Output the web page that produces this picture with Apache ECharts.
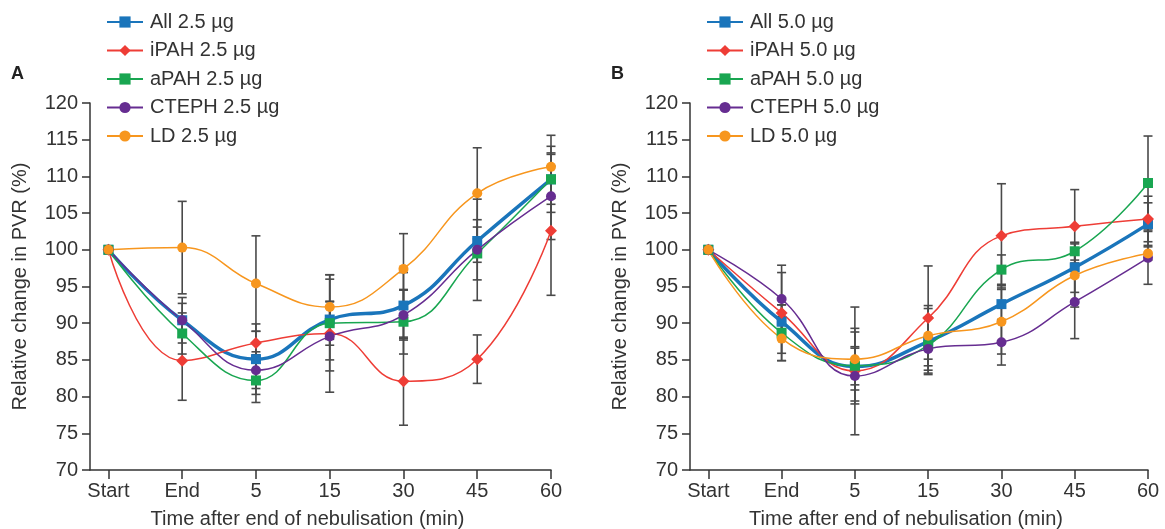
<!DOCTYPE html>
<html><head><meta charset="utf-8">
<script src="https://cdn.jsdelivr.net/npm/echarts@6/dist/echarts.min.js"></script>
<style>html,body{margin:0;padding:0;background:#fff}#c{width:1165px;height:529px}</style>
</head><body><div id="c"></div><script>
const timeLabels = ['Start','End','5','15','30','45','60'];

// Panel A (2.5 µg) means
const a_all   = [100, 90.4, 85.1, 90.5, 92.4, 101.2, 109.6];
const a_ipah  = [100, 84.9, 87.3, 88.6, 82.1, 85.1, 102.6];
const a_apah  = [100, 88.6, 82.2, 90.0, 90.2, 99.5, 109.6];
const a_cteph = [100, 90.4, 83.6, 88.2, 91.1, 100.0, 107.3];
const a_ld    = [100, 100.3, 95.4, 92.2, 97.4, 107.7, 111.3];
// Panel A errors (±)
const a_all_err   = [0, 3.1, 4.8, 5.5, 4.5, 2.9, 3.4];
const a_ipah_err  = [0, 5.4, 1.6, 8.0, 6.0, 3.3, 8.8];
const a_apah_err  = [0, 2.8, 3.0, 3.0, 4.4, 3.6, 4.5];
const a_cteph_err = [0, 2.3, 2.5, 4.7, 3.4, 6.9, 5.9];
const a_ld_err    = [0, 6.3, 6.5, 4.4, 4.8, 6.2, 4.3];

// Panel B (5.0 µg) means
const b_all   = [100, 90.2, 84.1, 87.5, 92.6, 97.6, 103.5];
const b_ipah  = [100, 91.4, 83.5, 90.7, 101.9, 103.2, 104.2];
const b_apah  = [100, 88.7, 84.2, 87.0, 97.3, 99.8, 109.1];
const b_cteph = [100, 93.3, 82.8, 86.5, 87.4, 92.9, 98.9];
const b_ld    = [100, 87.9, 85.1, 88.3, 90.2, 96.5, 99.5];
// Panel B errors (±)
const b_all_err   = [0, 2.3, 4.7, 4.5, 2.5, 3.4, 2.9];
const b_ipah_err  = [0, 5.5, 8.7, 7.1, 7.1, 5.0, 3.1];
const b_apah_err  = [0, 3.8, 2.6, 3.8, 2.0, 1.2, 6.4];
const b_cteph_err = [0, 4.6, 3.8, 1.4, 3.1, 5.0, 3.6];
const b_ld_err    = [0, 3.0, 4.2, 4.1, 4.4, 4.3, 0.9];

const groups = ['All', 'iPAH', 'aPAH', 'CTEPH', 'LD'];
const colors = ['#1a75bb', '#ee3d36', '#19a651', '#662d91', '#f7961e'];
const symbols = ['rect', 'diamond', 'rect', 'circle', 'circle'];
const symSizes = [10, 12, 10, 10, 10];
const widths = [3.5, 1.5, 1.5, 1.5, 1.5];

const TXT = '#333';
const FONT = 'Liberation Sans, Arial, sans-serif';
const FS = 20;

function lineSeries(name, vals, k, g) {
  return {
    type: 'line', name: name, xAxisIndex: g, yAxisIndex: g, z: 3,
    data: vals.map((v, i) => [i, v]),
    smooth: 0.45, smoothMonotone: null,
    symbol: symbols[k], symbolSize: symSizes[k], showSymbol: true,
    lineStyle: { color: colors[k], width: widths[k] },
    itemStyle: { color: colors[k] },
    emphasis: { disabled: true }, animation: false
  };
}
function errSeries(vals, errs, g) {
  const data = [];
  vals.forEach((v, i) => { if (errs[i] > 0) data.push([i, v - errs[i], v + errs[i]]); });
  return {
    type: 'custom', xAxisIndex: g, yAxisIndex: g, z: 1, silent: true, animation: false,
    data: data, encode: { x: 0, y: [1, 2] },
    renderItem: function (params, api) {
      const x = api.value(0);
      const lo = api.coord([x, api.value(1)]);
      const hi = api.coord([x, api.value(2)]);
      const w = 4.5;
      const st = { stroke: '#4a4a4a', lineWidth: 1.6 };
      return { type: 'group', children: [
        { type: 'line', shape: { x1: lo[0], y1: lo[1], x2: hi[0], y2: hi[1] }, style: st },
        { type: 'line', shape: { x1: lo[0] - w, y1: lo[1], x2: lo[0] + w, y2: lo[1] }, style: st },
        { type: 'line', shape: { x1: hi[0] - w, y1: hi[1], x2: hi[0] + w, y2: hi[1] }, style: st }
      ]};
    }
  };
}
function xAxis(g) {
  const ticks = [0, 1, 2, 3, 4, 5, 6];
  return {
    type: 'value', gridIndex: g, min: -0.25, max: 6,
    axisLine: { show: true, onZero: false, lineStyle: { color: TXT, width: 1.5 } },
    axisTick: { show: true, length: 9, customValues: ticks, lineStyle: { color: TXT, width: 1.5 } },
    axisLabel: { customValues: ticks, formatter: v => timeLabels[Math.round(v)], fontSize: FS, color: TXT, margin: 11, fontFamily: FONT },
    splitLine: { show: false },
    name: 'Time after end of nebulisation (min)', nameLocation: 'middle', nameGap: 39,
    nameTextStyle: { fontSize: FS, color: TXT, fontFamily: FONT, padding: [0, 26, 0, 0] }
  };
}
function yAxis(g) {
  return {
    type: 'value', gridIndex: g, min: 70, max: 120, interval: 5,
    axisLine: { show: true, onZero: false, lineStyle: { color: TXT, width: 1.5 } },
    axisTick: { show: true, length: 8, lineStyle: { color: TXT, width: 1.5 } },
    axisLabel: { fontSize: FS, color: TXT, margin: 12, fontFamily: FONT },
    splitLine: { show: false },
    name: 'Relative change in PVR (%)', nameLocation: 'middle', nameGap: 60,
    nameTextStyle: { fontSize: FS, color: TXT, fontFamily: FONT }
  };
}

const A = [a_all, a_ipah, a_apah, a_cteph, a_ld];
const Aerr = [a_all_err, a_ipah_err, a_apah_err, a_cteph_err, a_ld_err];
const B = [b_all, b_ipah, b_apah, b_cteph, b_ld];
const Berr = [b_all_err, b_ipah_err, b_apah_err, b_cteph_err, b_ld_err];
const namesA = groups.map(n => n + ' 2.5 µg');
const namesB = groups.map(n => n + ' 5.0 µg');

const series = [];
A.forEach((v, k) => series.push(errSeries(v, Aerr[k], 0)));
B.forEach((v, k) => series.push(errSeries(v, Berr[k], 1)));
A.forEach((v, k) => series.push(lineSeries(namesA[k], v, k, 0)));
B.forEach((v, k) => series.push(lineSeries(namesB[k], v, k, 1)));

function legend(left, names) {
  return {
    left: left, top: 7, orient: 'vertical', itemWidth: 36, itemHeight: 14, itemGap: 8.5,
    data: names, selectedMode: false,
    textStyle: { fontSize: FS, color: TXT, fontFamily: FONT, lineHeight: 20, padding: [0, 0, 0, 2] }
  };
}

const chart = echarts.init(document.getElementById('c'), null, { renderer: 'canvas' });
chart.setOption({
  backgroundColor: '#fff',
  animation: false,
  textStyle: { fontFamily: FONT },
  title: [
    { text: 'A', left: 6, top: 60, textStyle: { fontSize: 18, fontWeight: 'bold', color: '#222', fontFamily: FONT } },
    { text: 'B', left: 606, top: 60, textStyle: { fontSize: 18, fontWeight: 'bold', color: '#222', fontFamily: FONT } }
  ],
  legend: [legend(101, namesA), legend(701, namesB)],
  grid: [
    { left: 90, top: 103, width: 461, height: 367, containLabel: false, outerBoundsMode: 'none' },
    { left: 690, top: 103, width: 458, height: 367, containLabel: false, outerBoundsMode: 'none' }
  ],
  xAxis: [xAxis(0), xAxis(1)],
  yAxis: [yAxis(0), yAxis(1)],
  series: series
});
</script></body></html>
